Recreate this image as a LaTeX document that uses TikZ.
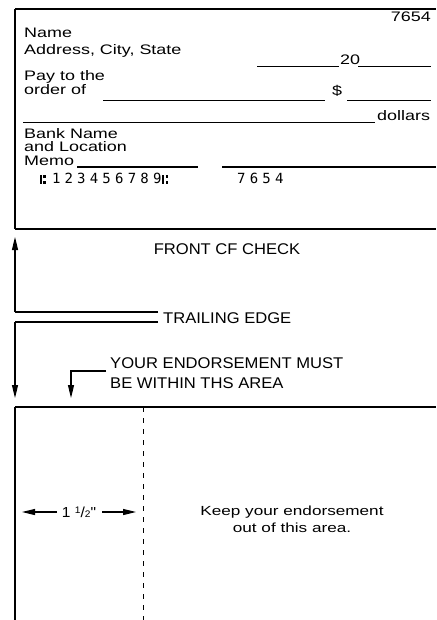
\documentclass[tikz,border=0pt]{standalone}
\usepackage{fontspec}
\setmainfont{Liberation Sans}
\newfontfamily\chk[FakeStretch=1.3]{Liberation Sans}
\newfontfamily\lbl[FakeStretch=1.07]{Liberation Sans}
\newfontfamily\micr[LetterSpace=30]{DejaVu Sans Mono}
\newcommand\transitsym{\rule{1.8pt}{8.5pt}\hspace{1.4pt}\rlap{\rule[5.9pt]{2.6pt}{2.6pt}}\rule{2.6pt}{2.6pt}}
\usetikzlibrary{arrows.meta}
\begin{document}
\begin{tikzpicture}[x=1pt,y=-1pt,
  ctext/.style={inner sep=0pt,anchor=base west,font=\chk\fontsize{13.8}{15}\selectfont},
  ltext/.style={inner sep=0pt,font=\lbl\fontsize{15.5}{17}\selectfont},
  mtext/.style={inner sep=0pt,anchor=base west,font=\micr\fontsize{14}{15}\selectfont},
  blank/.style={line width=0.9pt},
  heavy/.style={line width=2.4pt},
  thin/.style={line width=1.2pt},
  arr/.style={line width=1.2pt,-{Triangle[width=6pt,length=13pt]}}]
\useasboundingbox (0,0) rectangle (436,620);
% check outline
\coordinate (ctl) at (15,9);
\coordinate (ctr) at (436,9);
\coordinate (cbl) at (15,229);
\coordinate (cbr) at (436,229);
\draw[heavy] (ctl) -- (ctr);
\draw[heavy] (cbl) -- (cbr);
\draw[thin] (ctl) -- (cbl);
% check texts
\node[ctext,anchor=base east] (num) at (431,22) {7654};
\node[ctext] (name) at (24,38) {Name};
\node[ctext] (addr) at (24,55) {Address, City, State};
\node[ctext] (pay) at (24,81) {Pay to the};
\node[ctext] (ord) at (24,95) {order of};
\coordinate (d1a) at (257,66); \coordinate (d1b) at (339,66);
\node[ctext] (twenty) at (340,65) {20};
\coordinate (d2a) at (358,66); \coordinate (d2b) at (431,66);
\draw[blank] (d1a) -- (d1b);
\draw[blank] (d2a) -- (d2b);
\coordinate (o1a) at (103,100); \coordinate (o1b) at (325,100);
\draw[blank] (o1a) -- (o1b);
\node[ctext] (dollar) at (332,96) {\$};
\coordinate (o2a) at (347,100); \coordinate (o2b) at (431,100);
\draw[blank] (o2a) -- (o2b);
\coordinate (la) at (23,122); \coordinate (lb) at (375,122);
\draw[blank] (la) -- (lb);
\node[ctext] (dollars) at (377,121) {dollars};
\node[ctext] (bank) at (24,139) {Bank Name};
\node[ctext] (loc) at (24,152) {and Location};
\node[ctext] (memo) at (24,166) {Memo};
\coordinate (m1a) at (77,167); \coordinate (m1b) at (198,167);
\coordinate (m2a) at (222,167); \coordinate (m2b) at (436,167);
\draw[line width=1.6pt] (m1a) -- (m1b);
\draw[line width=1.6pt] (m2a) -- (m2b);
\node[mtext] (micr) at (40,184) {\transitsym\hspace{6pt}123456789\hspace{1pt}\transitsym};
\node[mtext] (micrn) at (237,184) {7654};
% labels
\node[ltext] (front) at (227,249) {FRONT CF CHECK};
\coordinate (upbot) at (15,312);
\coordinate (uptop) at (15,237);
\coordinate (t1) at (158,312);
\coordinate (t2) at (158,322);
\coordinate (dntop) at (15,322);
\coordinate (dnbot) at (15,398);
\draw[thin] (t1) -- (upbot);
\draw[arr] (upbot) -- (uptop);
\draw[thin] (t2) -- (dntop);
\draw[arr] (dntop) -- (dnbot);
\node[ltext,anchor=west] (trail) at (163,318) {TRAILING EDGE};
\node[ltext,anchor=base west] (your1) at (110,368) {YOUR ENDORSEMENT MUST};
\node[ltext,anchor=base west] (your2) at (110,388) {BE WITHIN THS AREA};
\coordinate (e0) at (106,371);
\coordinate (e1) at (71,371);
\coordinate (e2) at (71,398);
\draw[arr] (e0) -- (e1) -- (e2);
% back area
\coordinate (btl) at (15,407);
\coordinate (btr) at (436,407);
\coordinate (bbl) at (15,620);
\draw[heavy] (btl) -- (btr);
\draw[thin] (btl) -- (bbl);
\coordinate (da) at (143,407);
\coordinate (db) at (143,620);
\draw[line width=1pt,dash pattern=on 5pt off 6pt] (da) -- (db);
\node[inner sep=0pt,anchor=base,font=\lbl\fontsize{14.5}{15}\selectfont] (dim) at (79,517) {1 \raisebox{3.5pt}{\fontsize{9.5}{10}\selectfont 1}/{\fontsize{9.5}{10}\selectfont 2}"};
\coordinate (dwl) at (57,512); \coordinate (dl) at (22,512);
\coordinate (dwr) at (102,512); \coordinate (dr) at (136,512);
\draw[arr] (dwl) -- (dl);
\draw[arr] (dwr) -- (dr);
\node[inner sep=0pt,align=center,font=\chk\fontsize{13.2}{17}\selectfont] (keep) at (292,519) {Keep your endorsement\\out of this area.};
\end{tikzpicture}
\end{document}
